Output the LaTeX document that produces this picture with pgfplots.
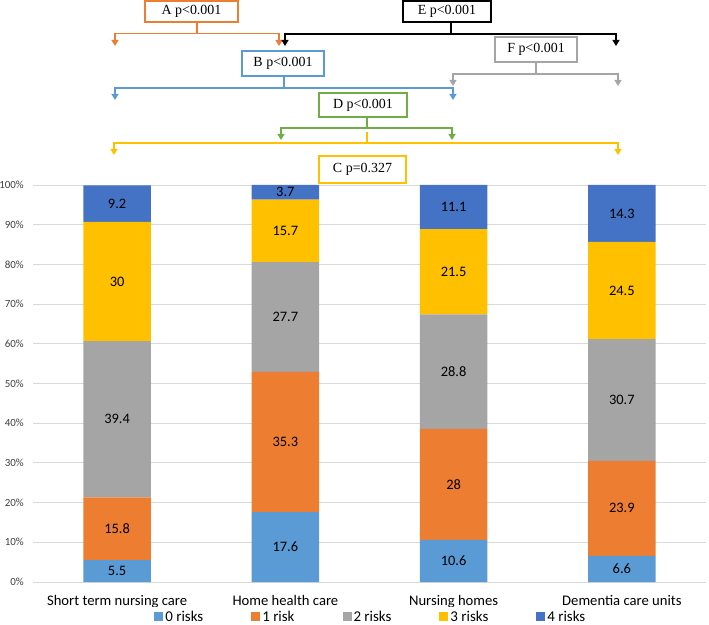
\documentclass[border=0pt]{standalone}
\usepackage{fontspec}
\setmainfont{Carlito}
\newfontfamily\serif{Liberation Serif}
\usepackage{pgfplots}
\pgfplotsset{compat=1.18}
\usetikzlibrary{arrows.meta}

\definecolor{c0}{HTML}{5B9BD5}
\definecolor{c1}{HTML}{ED7D31}
\definecolor{c2}{HTML}{A5A5A5}
\definecolor{c3}{HTML}{FFC000}
\definecolor{c4}{HTML}{4472C4}
\definecolor{cg}{HTML}{70AD47}
\definecolor{gridgray}{HTML}{D9D9D9}
\definecolor{ticktext}{HTML}{404040}

\begin{document}
\begin{tikzpicture}
\useasboundingbox (-33bp,-43bp) rectangle (676bp,582bp);
\begin{axis}[
  at={(0,0)}, anchor=south west,
  scale only axis, width=673bp, height=397bp,
  ybar stacked, bar width=0.4,
  xmin=-0.5, xmax=3.5, ymin=0, ymax=100,
  xtick={0,1,2,3},
  xticklabels={Short term nursing care, Home health care, Nursing homes, Dementia care units},
  ytick={0,10,...,100},
  yticklabel={\pgfmathprintnumber{\tick}\%},
  /pgf/number format/assume math mode=true,
  ymajorgrids, grid style={draw=gridgray, line width=0.9bp},
  axis line style={draw=none}, major tick length=0pt,
  xticklabel style={font=\fontsize{14.7}{17}\selectfont, anchor=base, yshift=-23bp},
  yticklabel style={font=\fontsize{11}{13}\selectfont, text=ticktext, anchor=east, inner sep=0pt, xshift=-9bp},
  visualization depends on=rawy \as \rawy,
  nodes near coords={\pgfmathprintnumber{\rawy}},
  every node near coord/.append style={font=\fontsize{14.5}{16}\selectfont, anchor=center},
  legend columns=5,
  legend image code/.code={\fill[#1] (0bp,-4.5bp) rectangle (9bp,4.5bp);},
  legend style={draw=none, font=\fontsize{15}{18}\selectfont, at={(0.502,-0.088)}, anchor=center,
    /tikz/every even column/.append style={column sep=46bp}},
]
\addplot[fill=c0, draw=none] coordinates {(0,5.5) (1,17.6) (2,10.6) (3,6.6)};
\addplot[fill=c1, draw=none] coordinates {(0,15.8) (1,35.3) (2,28) (3,23.9)};
\addplot[fill=c2, draw=none] coordinates {(0,39.4) (1,27.7) (2,28.8) (3,30.7)};
\addplot[fill=c3, draw=none] coordinates {(0,30) (1,15.7) (2,21.5) (3,24.5)};
\addplot[fill=c4, draw=none] coordinates {(0,9.2) (1,3.7) (2,11.1) (3,14.3)};
\legend{0 risks, 1 risk, 2 risks, 3 risks, 4 risks}
\end{axis}

% comparison brackets, in pixel units of the reference (origin top left)
\begin{scope}[shift={(-33bp,582bp)}, x=1bp, y=-1bp, line width=1.2bp,
  tips/.style={{Triangle[width=7bp,length=6bp]}-{Triangle[width=7bp,length=6bp]}},
  box/.style={draw, line width=1.5bp, inner sep=0pt, text=black, font=\serif\fontsize{14}{16}\selectfont}]
  % A
  \draw[c1] (197,22) -- (197,33.3);
  \draw[c1, tips] (115,46) -- (115,33.3) -- (279,33.3) -- (279,46);
  \node[box, draw=c1, minimum width=93bp, minimum height=21bp] at (191.5,11.5) {A p<0.001};
  % E
  \draw[black] (451,22) -- (451,34);
  \draw[black, tips] (285,46) -- (285,34) -- (616,34) -- (616,46);
  \node[box, draw=black, minimum width=88bp, minimum height=21bp] at (447,11.5) {E p<0.001};
  % F
  \draw[c2] (536,62) -- (536,74);
  \draw[c2, tips] (453,86) -- (453,74) -- (618,74) -- (618,86);
  \node[box, draw=c2, minimum width=82bp, minimum height=25bp] at (536,49.5) {F p<0.001};
  % B
  \draw[c0] (284,76) -- (284,88);
  \draw[c0, tips] (115,100) -- (115,88) -- (453,88) -- (453,100);
  \node[box, draw=c0, minimum width=82bp, minimum height=25bp] at (283,63.5) {B p<0.001};
  % D
  \draw[cg] (367,117) -- (367,128);
  \draw[cg, tips] (281,140) -- (281,128) -- (452,128) -- (452,140);
  \node[box, draw=cg, minimum width=88bp, minimum height=24bp] at (363,105) {D p<0.001};
  % C
  \draw[c3] (367,132) -- (367,143);
  \draw[c3, tips] (114,155) -- (114,143) -- (618,143) -- (618,155);
  \node[box, draw=c3, minimum width=87bp, minimum height=27bp] at (362.5,169.5) {C p=0.327};
\end{scope}
\end{tikzpicture}
\end{document}
